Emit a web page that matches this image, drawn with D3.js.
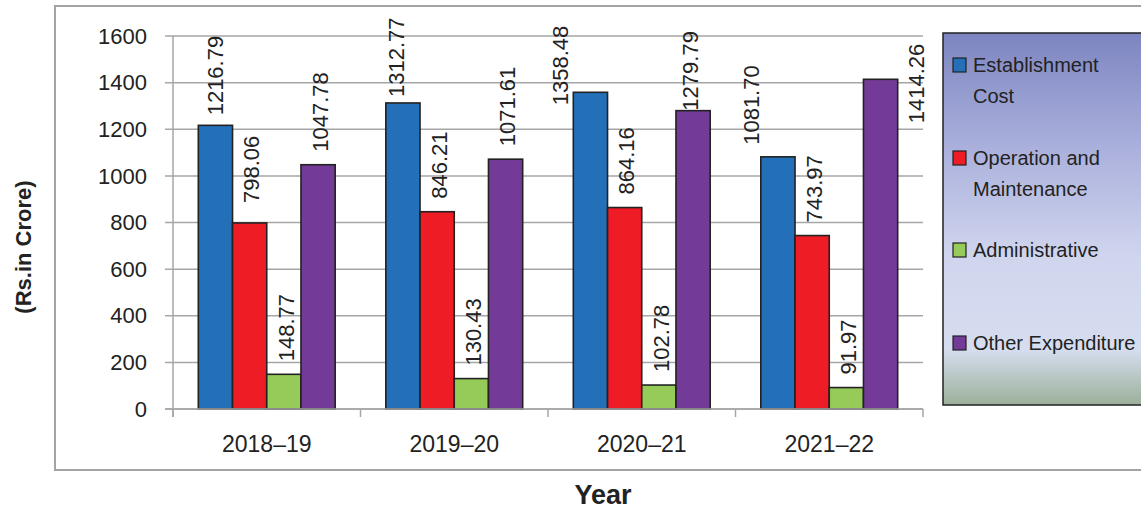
<!DOCTYPE html>
<html><head><meta charset="utf-8">
<script src="https://cdn.jsdelivr.net/npm/d3@7"></script>
<style>body{margin:0;background:#fff}svg{display:block;font-family:"Liberation Sans",Arial,sans-serif}</style>
</head><body><svg id="c" width="1141" height="509"></svg>
<script>
const categories = ["2018\u201319", "2019\u201320", "2020\u201321", "2021\u201322"];
const seriesNames = ["Establishment Cost", "Operation and Maintenance", "Administrative", "Other Expenditure"];
const establishment = [1216.79, 1312.77, 1358.48, 1081.70];
const operation = [798.06, 846.21, 864.16, 743.97];
const administrative = [148.77, 130.43, 102.78, 91.97];
const other = [1047.78, 1071.61, 1279.79, 1414.26];
const yTicks = [0, 200, 400, 600, 800, 1000, 1200, 1400, 1600];
const colors = ["#2370b9", "#ee1c25", "#97cb59", "#733b97"];
const values = [establishment, operation, administrative, other];

// label placement tweaks (pixels), keyed by series index and category index
const labelNudge = {
  "0-0": {dx: -2, gap: 10}, "0-1": {dx: -9, gap: 6}, "0-2": {dx: -32, gap: -13},
  "0-3": {dx: -29, gap: 12}, "1-0": {gap: 20}, "3-2": {dx: -5, gap: 0},
  "3-3": {dx: 34, gap: -44}
};

(function () {
const svg = d3.select("#c");
const pl = 173, pr = 923, pt = 36, pb = 409;

// outer frame
svg.append("rect").attr("x", 55).attr("y", 6).attr("width", 1100).attr("height", 464)
  .attr("fill", "none").attr("stroke", "#a3a3a3").attr("stroke-width", 2);

const x0 = d3.scaleBand().domain(categories).range([pl, pr]).paddingInner(0.27).paddingOuter(0.135);
const x1 = d3.scaleBand().domain(d3.range(4)).range([0, x0.bandwidth()]);
const y = d3.scaleLinear().domain([0, 1600]).range([pb, pt]);

// gridlines
svg.append("g").selectAll("line").data(yTicks).join("line")
  .attr("x1", pl - 8).attr("x2", pr).attr("y1", d => y(d)).attr("y2", d => y(d))
  .attr("stroke", "#a6a6a6").attr("stroke-width", 1.5);
// y axis line
svg.append("line").attr("x1", pl).attr("x2", pl).attr("y1", pt).attr("y2", pb + 8)
  .attr("stroke", "#a6a6a6").attr("stroke-width", 1.5);
// y tick labels
svg.append("g").selectAll("text").data(yTicks).join("text")
  .attr("x", 147).attr("y", d => y(d)).attr("dy", "0.35em").attr("text-anchor", "end")
  .attr("font-size", 22).attr("fill", "#222").text(d => d);

// category boundary ticks
const bounds = [pl].concat(categories.map((c, i) => pl + (pr - pl) / categories.length * (i + 1)));
svg.append("g").selectAll("line").data(bounds).join("line")
  .attr("x1", d => d).attr("x2", d => d).attr("y1", pb).attr("y2", pb + 8)
  .attr("stroke", "#a6a6a6").attr("stroke-width", 1.5);

// bars
const data = [];
values.forEach((arr, s) => arr.forEach((v, c) => data.push({s, c, v})));
svg.append("g").selectAll("rect").data(data).join("rect")
  .attr("x", d => x0(categories[d.c]) + x1(d.s))
  .attr("y", d => y(d.v))
  .attr("width", x1.bandwidth())
  .attr("height", d => pb - y(d.v))
  .attr("fill", d => colors[d.s]).attr("stroke", "#222").attr("stroke-width", 1.6);

// x axis line
svg.append("line").attr("x1", pl - 8).attr("x2", pr).attr("y1", pb).attr("y2", pb)
  .attr("stroke", "#a6a6a6").attr("stroke-width", 1.5);

// value labels
svg.append("g").selectAll("text").data(data).join("text")
  .attr("transform", d => {
    const n = labelNudge[d.s + "-" + d.c] || {};
    const cx = x0(categories[d.c]) + x1(d.s) + x1.bandwidth() / 2 + 2 + (n.dx || 0);
    const by = y(d.v) - (n.gap !== undefined ? n.gap : 13);
    return `translate(${cx},${by}) rotate(-90)`;
  })
  .attr("dy", "0.35em").attr("text-anchor", "start")
  .attr("font-size", 22).attr("fill", "#222")
  .text(d => d.v.toFixed(2));

// x labels
svg.append("g").selectAll("text").data(categories).join("text")
  .attr("x", d => x0(d) + x0.bandwidth() / 2).attr("y", 452)
  .attr("text-anchor", "middle").attr("font-size", 23).attr("fill", "#222").text(d => d);

// axis titles
svg.append("text").attr("x", 603).attr("y", 504).attr("text-anchor", "middle")
  .attr("font-size", 27).attr("font-weight", "bold").attr("fill", "#222").text("Year");
svg.append("text").attr("transform", "translate(31,247) rotate(-90)").attr("text-anchor", "middle")
  .attr("font-size", 22).attr("font-weight", "bold").attr("fill", "#222").text("(Rs.in Crore)");

// legend
const defs = svg.append("defs");
const g = defs.append("linearGradient").attr("id", "lg").attr("x1", 0).attr("x2", 0).attr("y1", 0).attr("y2", 1);
[[0, "#7d85c1"], [0.3, "#a9afdb"], [0.6, "#d0d5ee"], [0.85, "#d6ddef"], [1, "#9bb09a"]].forEach(([o, c]) =>
  g.append("stop").attr("offset", o).attr("stop-color", c));
svg.append("rect").attr("x", 943).attr("y", 33).attr("width", 220).attr("height", 372)
  .attr("fill", "url(#lg)").attr("stroke", "#222").attr("stroke-width", 1.5);

const legendLines = [["Establishment", "Cost"], ["Operation and", "Maintenance"], ["Administrative"], ["Other Expenditure"]];
const legendY = [65, 158, 250, 343];
const lg = svg.append("g").selectAll("g").data(seriesNames).join("g")
  .attr("transform", (d, i) => `translate(0,${legendY[i]})`);
lg.append("rect").attr("x", 953).attr("y", -7).attr("width", 13).attr("height", 14)
  .attr("fill", (d, i) => colors[i]).attr("stroke", "#222").attr("stroke-width", 1.2);
lg.each(function(d, i) {
  d3.select(this).selectAll("text").data(legendLines[i]).join("text")
    .attr("x", 973).attr("y", (t, j) => j * 31).attr("dy", "0.35em")
    .attr("font-size", 20).attr("fill", "#222").text(t => t);
});
})();
</script></body></html>
